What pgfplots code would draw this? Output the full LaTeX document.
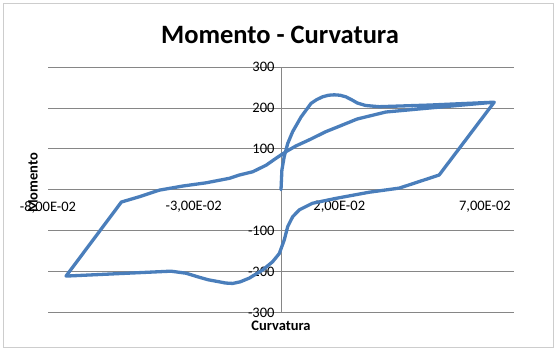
\documentclass[border=0pt]{standalone}
\usepackage{pgfplots}
\pgfplotsset{compat=1.18}
\usepackage{fontspec}
\setmainfont{Carlito}
\definecolor{excelblue}{RGB}{74,126,187}
\definecolor{gridgray}{RGB}{134,134,134}
\definecolor{bordergray}{RGB}{205,205,205}
\begin{document}
\begin{tikzpicture}[x=1bp,y=1bp]
\path[use as bounding box] (0,0) rectangle (560,351);
\draw[bordergray, line width=1bp] (3.5,4) rectangle (553,347.5);
\begin{axis}[
  at={(48bp,38.5bp)}, anchor=south west, scale only axis,
  width=466bp, height=245.5bp,
  xmin=-0.08, xmax=0.08, ymin=-300, ymax=300,
  axis x line=middle, axis y line=middle,
  axis line style={gridgray, line width=0.8bp, -},
  ymajorgrids, grid style={gridgray, line width=0.8bp},
  scaled x ticks=false, scaled y ticks=false,
  xtick={-0.08,-0.03,0.02,0.07},
  xticklabels={{-8,00E-02},{-3,00E-02},{2,00E-02},{7,00E-02}},
  ytick={-300,-200,-100,0,100,200,300},
  yticklabels={-300,-200,-100,0,100,200,300},
  major tick length=0pt,
  tick label style={font=\fontsize{14.5bp}{17bp}\selectfont},
  xticklabel style={anchor=north, yshift=-8bp},
  yticklabel style={anchor=east, xshift=-3bp},
  clip=false,
]
\addplot[excelblue, line width=3.3bp, line join=round, line cap=round] coordinates {
(0,0) (0.0003,48) (0.0011,81) (0.0023,113) (0.004,142) (0.0069,178) (0.0103,211)
(0.0122,220) (0.0142,227) (0.0163,231) (0.0183,232) (0.0203,231) (0.0223,227) (0.0245,219) (0.0262,212) (0.029,206) (0.0337,203)
(0.051,207) (0.0732,214)
(0.0543,36) (0.0406,4) (0.0303,-6) (0.0189,-21) (0.0108,-33) (0.0063,-49)
(0.0040,-66) (0.0023,-90) (0.0011,-123) (-0.0006,-156) (-0.0029,-176)
(-0.0063,-196) (-0.0109,-216) (-0.0140,-225) (-0.0166,-229) (-0.0190,-228) (-0.0212,-225) (-0.0250,-220) (-0.028,-214)
(-0.0326,-204) (-0.0378,-199) (-0.0738,-211)
(-0.0548,-30) (-0.0486,-17) (-0.0418,-1) (-0.0338,9) (-0.0257,17) (-0.0177,28)
(-0.0143,36) (-0.0097,44) (-0.0051,60) (-0.0017,77) (0.0017,93) (0.0051,107)
(0.0097,122) (0.0154,142) (0.0210,158) (0.0262,173) (0.036,190) (0.0498,199) (0.0732,214)
};
\end{axis}
\node[font=\bfseries\fontsize{26.5bp}{30bp}\selectfont] at (280,316) {Momento - Curvatura};
\node[font=\bfseries\fontsize{14.5bp}{17bp}\selectfont] at (281,25) {Curvatura};
\node[font=\bfseries\fontsize{14.5bp}{17bp}\selectfont, rotate=90] at (33,168) {Momento};
\end{tikzpicture}
\end{document}
